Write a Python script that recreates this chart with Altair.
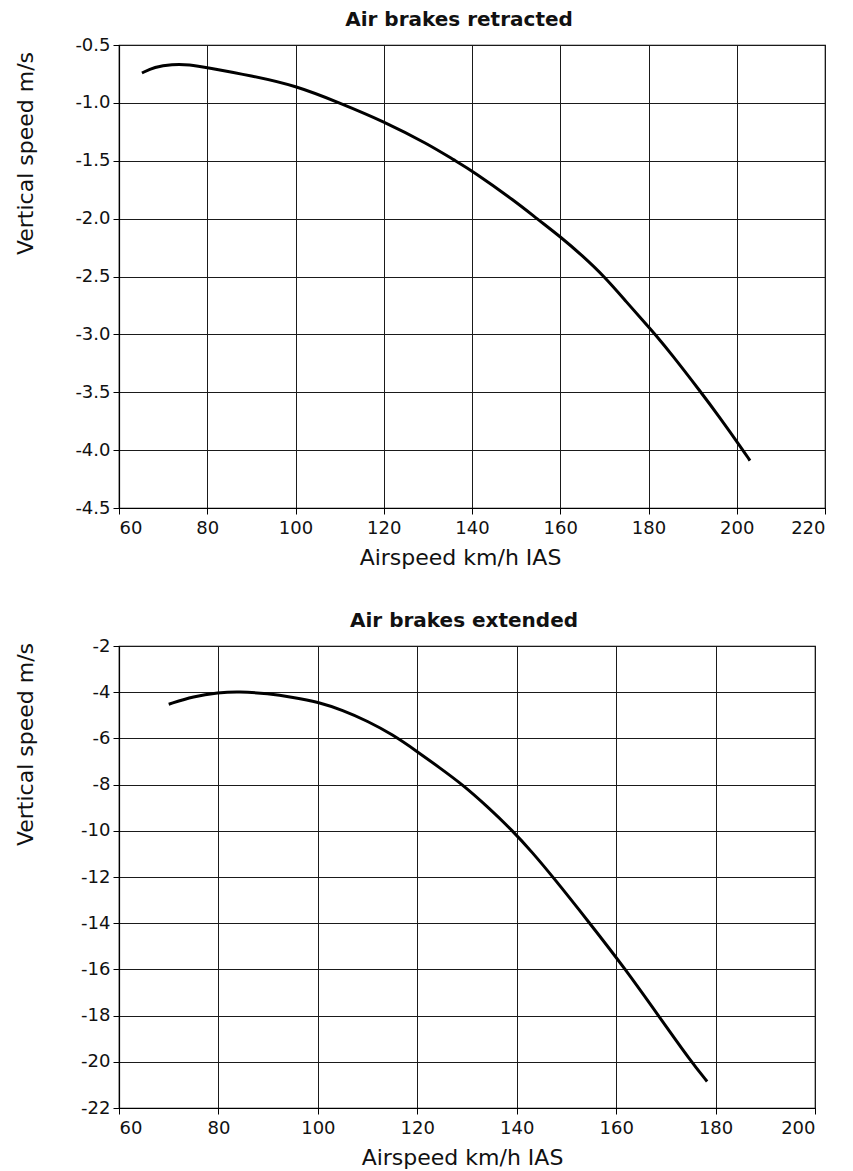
import altair as alt
import pandas as pd

# Air brakes retracted
ret_speed = [65.2, 68, 72, 76, 80, 90, 100, 110, 120, 130, 136.2, 140, 150,
             154.7, 160, 165, 170, 175, 180, 181.5, 185, 191.9, 196, 201.4, 203]
ret_sink = [-0.742, -0.69, -0.665, -0.668, -0.695, -0.765, -0.85, -1.0, -1.16,
            -1.355, -1.5, -1.585, -1.855, -2.0, -2.155, -2.32, -2.5, -2.72, -2.935,
            -3.0, -3.16, -3.5, -3.71, -4.0, -4.09]

# Air brakes extended
ext_speed = [70, 75, 80, 84, 90, 95, 100, 105, 110, 115, 120, 124.5, 129.1, 134,
             139.2, 143.2, 147.3, 154.7, 161.9, 168.5, 175.1, 178.3]
ext_sink = [-4.52, -4.18, -4.02, -3.97, -4.06, -4.22, -4.42, -4.78, -5.25, -5.83,
            -6.57, -7.27, -8.0, -8.93, -10.0, -10.95, -12.0, -14.0, -16.0, -18.0,
            -20.0, -20.85]

ret_xticks = [60, 80, 100, 120, 140, 160, 180, 200, 220]
ret_yticks = [-0.5, -1.0, -1.5, -2.0, -2.5, -3.0, -3.5, -4.0, -4.5]
ext_xticks = [60, 80, 100, 120, 140, 160, 180, 200]
ext_yticks = [-2, -4, -6, -8, -10, -12, -14, -16, -18, -20, -22]

FONT = "DejaVu Sans"


def panel(speed, sink, title, xticks, yticks, ydigits, w, h, title_dx,
          xtitle_x, ytitle_x, ytitle_y):
    df = pd.DataFrame({"speed": speed, "sink": sink})
    fmt = "." + str(ydigits) + "f"
    return alt.Chart(df).mark_line(
        color="black", strokeWidth=3, interpolate="basis"
    ).encode(
        x=alt.X("speed:Q",
                scale=alt.Scale(domain=[xticks[0], xticks[-1]], nice=False, zero=False),
                axis=alt.Axis(values=xticks, title="Airspeed km/h IAS",
                              titleX=xtitle_x, titleAnchor="start",
                              titleAlign="center", titlePadding=10,
                              labelPadding=5)),
        y=alt.Y("sink:Q",
                scale=alt.Scale(domain=[yticks[-1], yticks[0]], nice=False, zero=False),
                axis=alt.Axis(values=yticks, title="Vertical speed m/s",
                              labelExpr="(datum.value < 0 ? '-' : '') + format(abs(datum.value), '" + fmt + "')",
                              titleX=ytitle_x, titleY=ytitle_y, titleAngle=-90,
                              titleAlign="center", titleBaseline="alphabetic",
                              labelPadding=3)),
    ).properties(
        width=w, height=h,
        title=alt.TitleParams(title, dx=title_dx),
    )


top = panel(ret_speed, ret_sink, "Air brakes retracted", ret_xticks, ret_yticks, 1,
            706, 463, -13, 341, -87, 108)
bottom = panel(ext_speed, ext_sink, "Air brakes extended", ext_xticks, ext_yticks, 0,
               696, 462, -3, 343, -87, 98)

chart = alt.vconcat(top, bottom, spacing=41).properties(
    padding={"left": 5, "top": 1, "right": 0, "bottom": 0}
).configure_view(
    stroke="black", strokeWidth=1.2
).configure_axis(
    grid=True, gridColor="#1a1a1a", gridOpacity=1, gridWidth=1,
    domainColor="black", domainWidth=1.2, tickColor="black", tickSize=6,
    labelFont=FONT, labelFontSize=18, labelColor="#111",
    titleFont=FONT, titleFontSize=22, titleFontWeight="normal", titleColor="#111",
).configure_title(
    font=FONT, fontSize=20, fontWeight="bold", color="#111", anchor="middle",
    offset=6,
)

chart.save("out.html", embed_options={"renderer": "svg", "actions": False})
